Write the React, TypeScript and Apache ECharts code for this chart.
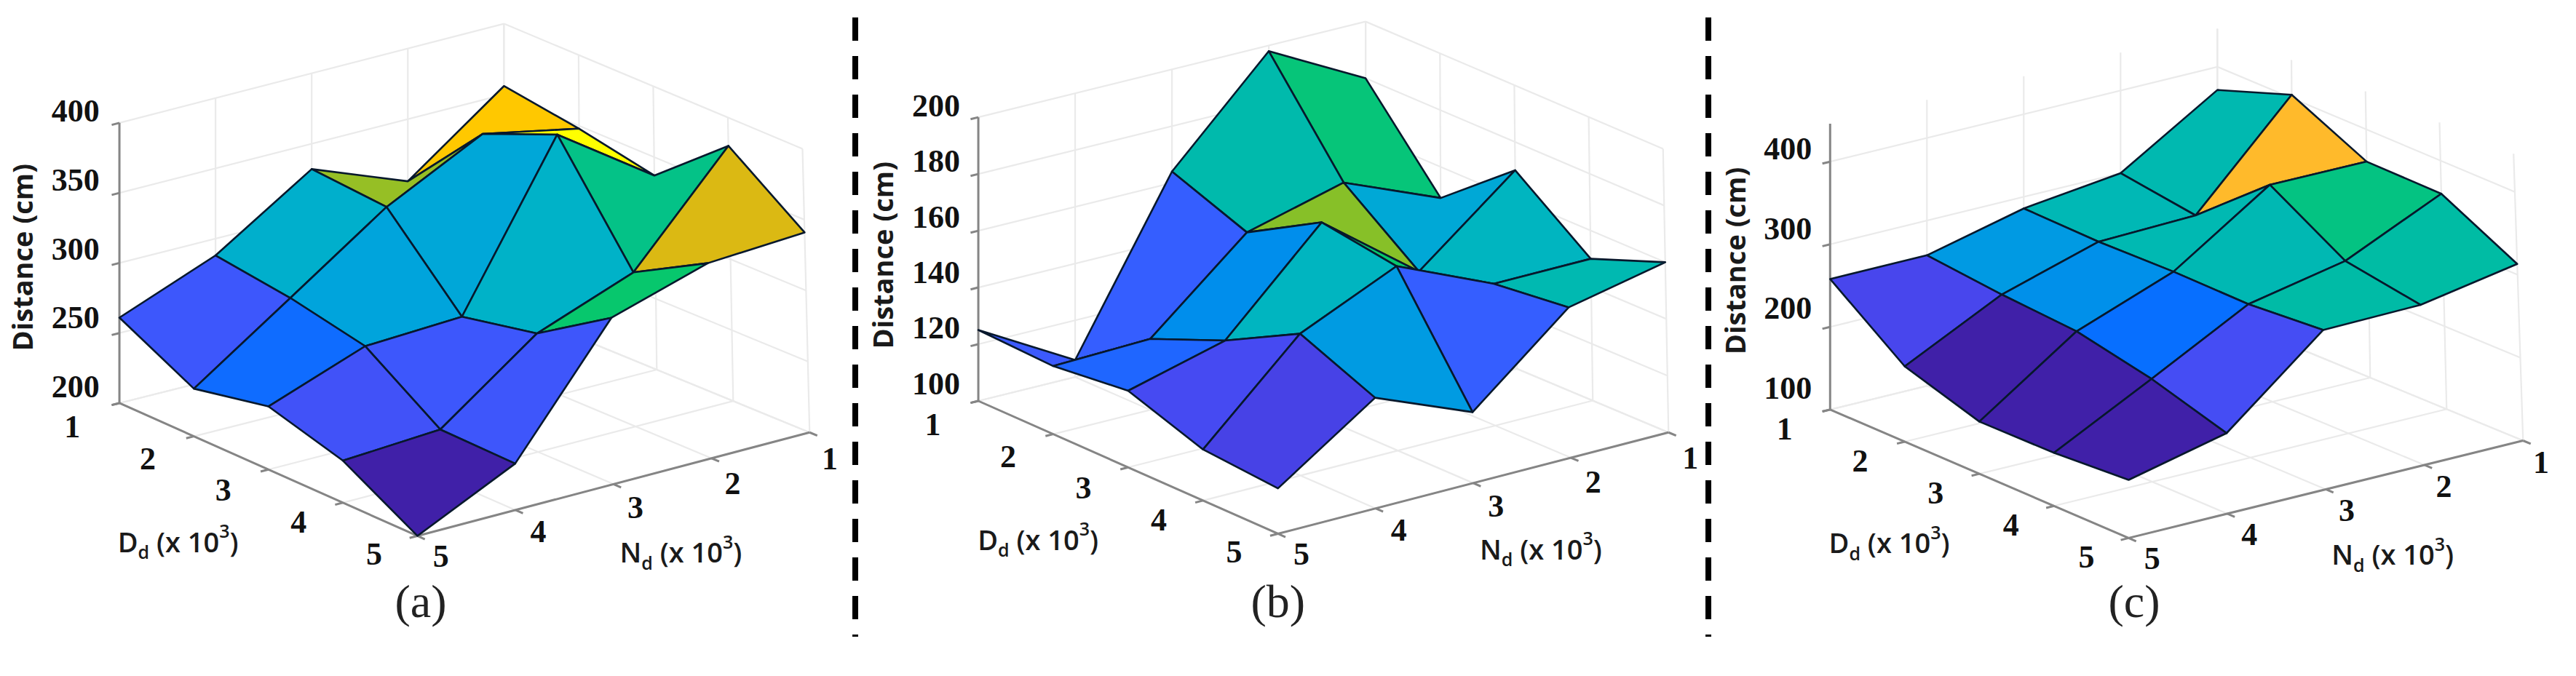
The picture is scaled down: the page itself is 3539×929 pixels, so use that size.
import React, { useEffect, useRef } from "react";
import * as echarts from "echarts";

// Distance (cm). Rows: Dd = 1..5. Columns: Nd = 5, 4, 3, 2, 1 (left corner to back corner).
const surfaceA = [
  [261, 288, 332, 306, 356],
  [234, 281, 328, 362, 348],
  [245, 270, 273, 384, 337],
  [230, 234, 284, 309, 380],
  [200, 233, 318, 338, 341],
];
const surfaceB = [
  [125, 106, 164, 198, 180],
  [124, 125, 154, 163, 149],
  [127, 136, 169, 143, 170],
  [118, 150, 165, 150, 150],
  [116, 139, 125, 153, 160],
];
const surfaceC = [
  [258, 258, 286, 300, 372],
  [191, 249, 284, 287, 404],
  [163, 243, 286, 362, 361],
  [164, 224, 285, 308, 360],
  [170, 197, 292, 293, 313],
];
const zTicksA = [200, 250, 300, 350, 400];
const zTicksB = [100, 120, 140, 160, 180, 200];
const zTicksC = [100, 200, 300, 400];
const dLabels = ["1", "2", "3", "4", "5"];
const nLabels = ["5", "4", "3", "2", "1"];

// Colour ramp, as seen in the faces
const rampStops: [number, string][] = [
  [0, "#4020A8"], [0.04, "#4020A8"], [0.12, "#4848F0"], [0.2, "#3B5BFF"], [0.26, "#0072FF"],
  [0.38, "#00A4DC"], [0.47, "#00B4C4"], [0.54, "#00BCA4"], [0.65, "#08C868"], [0.685, "#88C028"],
  [0.76, "#E8B810"], [0.82, "#FFB830"], [0.88, "#FFC800"], [1, "#FFFF00"],
];

const SX = 1180 / 1568;
const SY = 929 / 1568;
type P = [number, number];

interface Panel {
  name: string;
  ox: number;
  surface: number[][];
  ticks: number[];
  lo: number; hi: number; wallTop: number;
  base: { L: P; F: P; R: P; B: P };
  top: { L: P; F: P; R: P; B: P };
  zLabelX: number; zLabelY: [number, number];
  dPos: [P, P]; nPos: [P, P];
  dTitle: P; nTitle: P; zTitle: P; caption: P;
}

const panels: Panel[] = [
  {
    name: "(a)", ox: 0, surface: surfaceA, ticks: zTicksA, lo: 200, hi: 400, wallTop: 400,
    base: { L: [218, 935], F: [762, 1243], R: [1478, 1003], B: [920, 712] },
    top: { L: [218, 285], F: [762, 593], R: [1465, 345], B: [920, 55] },
    zLabelX: 138, zLabelY: [897, 258],
    dPos: [[132, 990], [683, 1285]], nPos: [[805, 1290], [1515, 1065]],
    dTitle: [325, 1255], nTitle: [1243, 1280], zTitle: [40, 597], caption: [768, 1395],
  },
  {
    name: "(b)", ox: 1180, surface: surfaceB, ticks: zTicksB, lo: 100, hi: 200, wallTop: 200,
    base: { L: [218, 930], F: [765, 1238], R: [1478, 1003], B: [925, 708] },
    top: { L: [218, 272], F: [765, 580], R: [1468, 345], B: [925, 50] },
    zLabelX: 141, zLabelY: [890, 245],
    dPos: [[135, 985], [685, 1280]], nPos: [[808, 1285], [1518, 1062]],
    dTitle: [327, 1250], nTitle: [1245, 1272], zTitle: [42, 592], caption: [765, 1395],
  },
  {
    name: "(c)", ox: 2360, surface: surfaceC, ticks: zTicksC, lo: 100, hi: 400, wallTop: 446,
    base: { L: [205, 950], F: [750, 1248], R: [1470, 1022], B: [912, 730] },
    top: { L: [205, 375], F: [750, 670], R: [1455, 445], B: [912, 155] },
    zLabelX: 128, zLabelY: [900, 345],
    dPos: [[122, 995], [673, 1292]], nPos: [[793, 1295], [1503, 1072]],
    dTitle: [313, 1258], nTitle: [1232, 1285], zTitle: [30, 605], caption: [760, 1395],
  },
];

const hexToRgb = (h: string) => [1, 3, 5].map((i) => parseInt(h.slice(i, i + 2), 16));
function rampColor(t: number) {
  const c = Math.max(0, Math.min(1, t));
  for (let i = 1; i < rampStops.length; i++) {
    const [t1, col1] = rampStops[i];
    if (c <= t1) {
      const [t0, col0] = rampStops[i - 1];
      const f = (c - t0) / (t1 - t0 || 1);
      const a = hexToRgb(col0), b = hexToRgb(col1);
      return `rgb(${a.map((x, k) => Math.round(x + (b[k] - x) * f)).join(",")})`;
    }
  }
  return rampStops[rampStops.length - 1][1];
}

// Projects (u along Dd, v along Nd, z value) to full-size page coordinates
function project(p: Panel, u: number, v: number, z: number): P {
  const bl = (c: { L: P; F: P; R: P; B: P }, k: 0 | 1) =>
    (1 - u) * (1 - v) * c.L[k] + u * (1 - v) * c.F[k] + u * v * c.R[k] + (1 - u) * v * c.B[k];
  const w = (z - p.lo) / (p.hi - p.lo);
  const x = bl(p.base, 0) + (bl(p.top, 0) - bl(p.base, 0)) * w;
  const y = bl(p.base, 1) + (bl(p.top, 1) - bl(p.base, 1)) * w;
  return [x * SX + p.ox, y * SY];
}

const lerp = (a: P, b: P, t: number): P => [a[0] + (b[0] - a[0]) * t, a[1] + (b[1] - a[1]) * t];
const page = (p: Panel, q: P): P => [q[0] * SX + p.ox, q[1] * SY];

const GRID = "#EAEAEA";
const AXIS = "#858585";
const EDGE = "#07182C";

function wallSegments(p: Panel) {
  const out: number[][] = [];
  const cnt = 4;
  for (let i = 0; i <= cnt; i++) {
    const t = i / cnt;
    out.push([t, 0, p.lo, t, 1, p.lo, 0]);
    out.push([0, t, p.lo, 1, t, p.lo, 0]);
    out.push([0, t, p.lo, 0, t, p.wallTop, 0]);
    out.push([t, 1, p.lo, t, 1, p.wallTop, 0]);
  }
  p.ticks.forEach((z) => {
    out.push([0, 0, z, 0, 1, z, 0]);
    out.push([0, 1, z, 1, 1, z, 0]);
    out.push([0, 0, z, 0, -0.02, z, 1]);
  });
  out.push([0, 0, p.lo, 0, 0, p.wallTop, 1]);
  out.push([0, 0, p.lo, 1, 0, p.lo, 1]);
  out.push([1, 0, p.lo, 1, 1, p.lo, 1]);
  for (let i = 0; i <= cnt; i++) {
    const t = i / cnt;
    out.push([t, 0, p.lo, t, -0.02, p.lo, 1]);
    out.push([1, t, p.lo, 1.025, t, p.lo, 1]);
  }
  return out;
}

function faces(p: Panel) {
  const s = p.surface;
  const out: number[][] = [];
  for (let du = 0; du < 4; du++) {
    for (let dv = 0; dv < 4; dv++) {
      out.push([du, dv, s[du][dv], s[du + 1][dv], s[du + 1][dv + 1], s[du][dv + 1], du - dv]);
    }
  }
  return out.sort((a, b) => a[6] - b[6]);
}

function buildSeries(p: Panel) {
  const flat = p.surface.flat();
  const cmin = Math.min(...flat);
  const cmax = Math.max(...flat);
  return [
    {
      type: "custom", coordinateSystem: "cartesian2d", z: 1, silent: true, clip: false,
      data: wallSegments(p),
      renderItem: (_: any, api: any) => {
        const a = api.coord(project(p, api.value(0), api.value(1), api.value(2)));
        const b = api.coord(project(p, api.value(3), api.value(4), api.value(5)));
        const isAxis = api.value(6) === 1;
        return {
          type: "line",
          z2: isAxis ? 2 : 1,
          shape: { x1: a[0], y1: a[1], x2: b[0], y2: b[1] },
          style: { stroke: isAxis ? AXIS : GRID, lineWidth: isAxis ? 3 : 2.2, fill: "none" },
        };
      },
    },
    {
      type: "custom", coordinateSystem: "cartesian2d", z: 3, silent: true, clip: false,
      data: faces(p),
      renderItem: (_: any, api: any) => {
        const du = api.value(0), dv = api.value(1);
        const q = [
          project(p, du / 4, dv / 4, api.value(2)),
          project(p, (du + 1) / 4, dv / 4, api.value(3)),
          project(p, (du + 1) / 4, (dv + 1) / 4, api.value(4)),
          project(p, du / 4, (dv + 1) / 4, api.value(5)),
        ].map((c) => api.coord(c));
        return {
          type: "polygon",
          shape: { points: q },
          style: {
            fill: rampColor((api.value(3) - cmin) / (cmax - cmin)),
            stroke: EDGE, lineWidth: 2.6, lineJoin: "round",
          },
        };
      },
    },
  ];
}

const titleRich = (letter: string) => ({
  text: `{a|${letter}}{b|d}{a| (x 10}{c|3}{a|)}`,
  rich: {
    a: { fontFamily: "Open Sans", fontWeight: 600, fontSize: 38, fill: "#1A1A1A", lineHeight: 54, verticalAlign: "middle" },
    b: { fontFamily: "Open Sans", fontWeight: 600, fontSize: 25, fill: "#1A1A1A", lineHeight: 54, verticalAlign: "bottom" },
    c: { fontFamily: "Open Sans", fontWeight: 600, fontSize: 25, fill: "#1A1A1A", lineHeight: 54, verticalAlign: "top" },
  },
});

function buildGraphic() {
  const els: any[] = [];
  const num = { fontFamily: "Liberation Serif", fontWeight: "bold", fontSize: 44, fill: "#111", align: "center", verticalAlign: "middle" };
  panels.forEach((p) => {
    const n = p.ticks.length;
    p.ticks.forEach((t, i) => {
      const c = page(p, [p.zLabelX, p.zLabelY[0] + ((p.zLabelY[1] - p.zLabelY[0]) * i) / (n - 1)]);
      els.push({ type: "text", x: c[0], y: c[1], z: 10, style: { ...num, text: String(t) } });
    });
    dLabels.forEach((t, i) => {
      const c = page(p, lerp(p.dPos[0], p.dPos[1], i / 4));
      els.push({ type: "text", x: c[0], y: c[1], z: 10, style: { ...num, text: t } });
    });
    nLabels.forEach((t, i) => {
      const c = page(p, lerp(p.nPos[0], p.nPos[1], i / 4));
      els.push({ type: "text", x: c[0], y: c[1], z: 10, style: { ...num, text: t } });
    });
    const d = page(p, p.dTitle), nn = page(p, p.nTitle), zt = page(p, p.zTitle), cap = page(p, p.caption);
    els.push({ type: "text", x: d[0], y: d[1], z: 10, style: { ...titleRich("D"), align: "center", verticalAlign: "middle" } });
    els.push({ type: "text", x: nn[0], y: nn[1], z: 10, style: { ...titleRich("N"), align: "center", verticalAlign: "middle" } });
    els.push({
      type: "text", x: zt[0], y: zt[1], rotation: Math.PI / 2, z: 10,
      style: { text: "Distance (cm)", fontFamily: "Open Sans", fontWeight: 700, fontSize: 38, fill: "#1A1A1A", align: "center", verticalAlign: "middle" },
    });
    els.push({
      type: "text", x: cap[0], y: cap[1], z: 10,
      style: { text: p.name, fontFamily: "Liberation Serif", fontSize: 64, fill: "#222", align: "center", verticalAlign: "middle" },
    });
  });
  [1175, 2347].forEach((x) => {
    els.push({
      type: "line", z: 10,
      shape: { x1: x, y1: 24, x2: x, y2: 875 },
      style: { stroke: "#000", lineWidth: 8, lineDash: [32, 21] },
    });
  });
  return els;
}

export default function App() {
  const ref = useRef<HTMLDivElement>(null);
  useEffect(() => {
    const chart = echarts.init(ref.current!, undefined, { renderer: "svg" });
    chart.setOption({
      animation: false,
      backgroundColor: "#fff",
      grid: { left: 0, right: 0, top: 0, bottom: 0 },
      xAxis: { type: "value", min: 0, max: 3539, show: false },
      yAxis: { type: "value", min: 0, max: 929, inverse: true, show: false },
      series: panels.flatMap(buildSeries),
      graphic: buildGraphic(),
    });
    return () => chart.dispose();
  }, []);
  return <div ref={ref} style={{ position: "fixed", left: 0, top: 0, width: 3539, height: 929 }} />;
}
